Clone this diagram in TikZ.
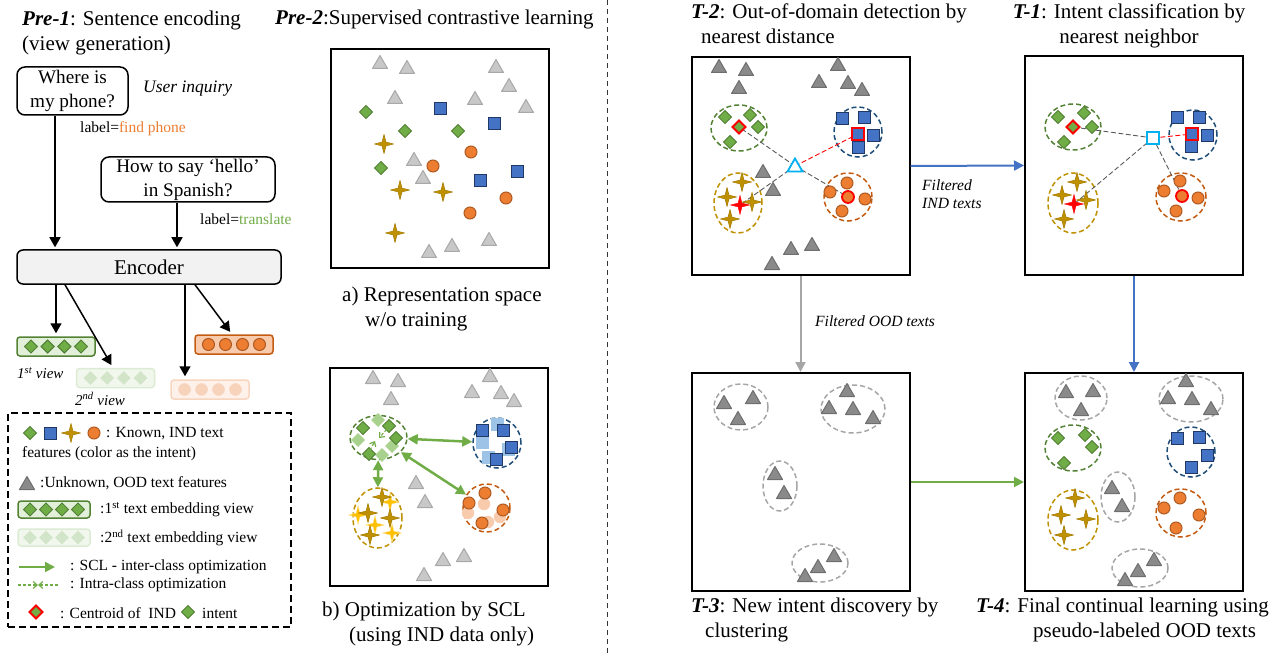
\documentclass[tikz,border=0pt]{standalone}
\usepackage{fontspec}
\setmainfont{Liberation Serif}
\usepackage{tikz}
\usetikzlibrary{
	arrows.meta,
	calc,
	positioning,
	shapes.geometric,
}

\definecolor{cgreen}{HTML}{70AD47}
\definecolor{cgreenD}{HTML}{507E32}
\definecolor{cblue}{HTML}{4472C4}
\definecolor{cblueD}{HTML}{203864}
\definecolor{corange}{HTML}{ED7D31}
\definecolor{corangeD}{HTML}{AE5A21}
\definecolor{cgold}{HTML}{BF9000}
\definecolor{cgoldD}{HTML}{A67C00}
\definecolor{triL}{HTML}{C8C8C8}
\definecolor{triLD}{HTML}{A8A8A8}
\definecolor{triD}{HTML}{8A8A8A}
\definecolor{triDD}{HTML}{6E6E6E}
\definecolor{lgreen}{HTML}{A9D18E}
\definecolor{lblue}{HTML}{9DC3E6}
\definecolor{lgold}{HTML}{FFC000}
\definecolor{lgoldD}{HTML}{FFE699}
\definecolor{lorange}{HTML}{F8CBAD}
\definecolor{kgreen}{HTML}{548235}
\definecolor{kblue}{HTML}{1F4E79}
\definecolor{kgold}{HTML}{BF9000}
\definecolor{korange}{HTML}{C55A11}
\definecolor{kgray}{HTML}{A6A6A6}
\definecolor{ccyan}{HTML}{00B0F0}
\definecolor{vfill}{HTML}{E2F0D9}
\definecolor{vfaint}{HTML}{F1F7ED}
\definecolor{vfaintD}{HTML}{DCEBD3}
\definecolor{dfaint}{HTML}{D3E5C8}
\definecolor{ofill}{HTML}{F8CBAD}
\definecolor{ofaint}{HTML}{FDF1EA}
\definecolor{ofaintD}{HTML}{F8D5BF}
\definecolor{cfaint}{HTML}{F8D3BC}

\tikzset{heading/.style={
	inner sep=0mm,
	anchor=north west,
	align=left,
	font=\fontsize{21}{25}\selectfont,
}}
\tikzset{note/.style={
	inner sep=0mm,
	anchor=west,
	font=\fontsize{15.5}{18}\selectfont,
}}
\tikzset{textbox/.style={
	draw,
	rounded corners=8pt,
	line width=1.5pt,
	align=center,
	inner sep=0mm,
	font=\fontsize{19.2}{24}\selectfont,
}}
\tikzset{encoder/.style={
	draw,
	fill=black!5,
	rounded corners=6pt,
	line width=1.5pt,
	inner sep=0mm,
	minimum width=264pt,
	minimum height=34pt,
	font=\fontsize{21}{25}\selectfont,
}}
\tikzset{view bar/.style={
	draw=#1,
	rounded corners=3pt,
	line width=1.5pt,
	inner sep=0mm,
	minimum width=78pt,
	minimum height=19pt,
}}
\tikzset{panel/.style={
	draw,
	line width=2pt,
	inner sep=0mm,
	minimum size=218pt,
}}
\tikzset{cluster/.style={
	ellipse,
	draw=#1,
	line width=1.5pt,
	dash pattern=on 5pt off 3pt,
	inner sep=0mm,
}}
\tikzset{arr/.style={
	line width=1.5pt,
	shorten >=3pt,
	-{Triangle[length=10pt,width=11pt]},
}}
\tikzset{flow/.style={
	draw=#1,
	line width=2pt,
	-{Triangle[length=10pt,width=10pt]},
}}
\tikzset{scl/.style={
	draw=cgreen,
	line width=2.5pt,
	{Triangle[length=10pt,width=10pt]}-{Triangle[length=10pt,width=10pt]},
}}
\tikzset{intra/.style={
	draw=cgreen,
	line width=1.2pt,
	dash pattern=on 3pt off 2pt,
	-{Straight Barb[length=4pt,width=7pt]},
}}
\tikzset{probe/.style={
	draw=black!65,
	line width=0.9pt,
	dash pattern=on 5pt off 2.5pt,
}}
\tikzset{m tri light/.style={fill=triL, draw=triLD, line width=1pt, line join=round}}
\tikzset{m tri dark/.style={fill=triD, draw=triDD, line width=1pt, line join=round}}
\tikzset{m dia/.style={fill=cgreen, draw=cgreenD, line width=1pt}}
\tikzset{m sq/.style={fill=cblue, draw=cblueD, line width=1pt}}
\tikzset{m circ/.style={fill=corange, draw=corangeD, line width=1pt}}
\tikzset{m star/.style={fill=cgold, draw=cgoldD, line width=0.6pt, line join=round}}
\tikzset{centroid/.style={draw=red, line width=1.8pt}}
\tikzset{query/.style={fill=white, draw=ccyan, line width=1.8pt}}

\newcommand{\mtri}[2][m tri light]{\draw[#1] (#2) ++(-7.5,5.5) -- ++(15,0) -- ++(-7.5,-13) -- cycle;}
\newcommand{\mdia}[2][m dia]{\draw[#1] (#2) ++(-6.5,0) -- ++(6.5,-6.5) -- ++(6.5,6.5) -- ++(-6.5,6.5) -- cycle;}
\newcommand{\msq}[2][m sq]{\draw[#1] (#2) ++(-6,-6) rectangle ++(12,12);}
\newcommand{\mcirc}[2][m circ]{\draw[#1] (#2) circle[radius=6];}
\newcommand{\mstar}[2][m star]{\draw[#1] (#2) ++(0,-9.5) -- ++(1.9,7.6) -- ++(7.6,1.9) -- ++(-7.6,1.9) -- ++(-1.9,7.6) -- ++(-1.9,-7.6) -- ++(-7.6,-1.9) -- ++(7.6,-1.9) -- cycle;}

\begin{document}
\begin{tikzpicture}[x=1pt, y=-1pt]
\useasboundingbox (0,0) rectangle (1288,655);

% divider
\draw[black!80, line width=1pt, dash pattern=on 5pt off 4pt] (607,0) -- (607,655);

% Pre-1: sentence encoding
\node[heading] (t-pre1) at (22,10.5) {\textbf{\textit{Pre-1}}: Sentence encoding\\(view generation)};
\node[textbox, minimum width=111pt, minimum height=48pt] (q1) at (72.5,91) {Where is\\my phone?};
\node[note, font=\fontsize{17.5}{20}\selectfont\itshape] (user) at (143,89) {User inquiry};
\node[note] (lab1) at (80,129) {label=\textcolor{corange}{find phone}};
\node[textbox, minimum width=174pt, minimum height=45pt] (q2) at (188,179.5) {How to say ‘hello’\\in Spanish?};
\node[note] (lab2) at (200,219) {label=\textcolor{cgreen}{translate}};
\node[encoder] (enc) at (149,267) {Encoder};

\node[view bar=kgreen, fill=vfill] (v1) at (56,346.5) {};
\foreach \dx in {-25,-8.3,8.3,25} {\mdia{$(v1)+(\dx,0)$}}
\node[view bar=vfaintD, fill=vfaint] (v2) at (115.5,378) {};
\foreach \dx in {-25,-8.3,8.3,25} {\mdia[fill=dfaint, draw=dfaint]{$(v2)+(\dx,0)$}}
\node[view bar=korange, fill=ofill] (o1) at (234,344.5) {};
\foreach \dx in {-25.5,-8.5,8.5,25.5} {\mcirc{$(o1)+(\dx,0)$}}
\node[view bar=ofaintD, fill=ofaint] (o2) at (210,389.5) {};
\foreach \dx in {-25.5,-8.5,8.5,25.5} {\mcirc[fill=cfaint, draw=cfaint]{$(o2)+(\dx,0)$}}

\node[note, font=\fontsize{15}{18}\selectfont\itshape] (n1) at (17,373) {1\textsuperscript{st} view};
\node[note, font=\fontsize{15}{18}\selectfont\itshape] (n2) at (75,399) {2\textsuperscript{nd} view};

\draw[arr, shorten >=2pt] ([xshift=-17.5pt]q1.south) -- ([xshift=-94pt]enc.north);
\draw[arr, shorten >=2pt] ([xshift=-11pt]q2.south) -- ([xshift=28pt]enc.north);
\draw[arr] ([xshift=-93pt]enc.south) -- (v1.north);
\draw[arr] ([xshift=-84pt]enc.south) -- ([xshift=-2.5pt]v2.north);
\draw[arr] ([xshift=36pt]enc.south) -- ([xshift=-25pt]o2.north);
\draw[arr] ([xshift=46pt]enc.south) -- ([xshift=-2pt]o1.north);

% legend
\node[draw, line width=1.5pt, dash pattern=on 7pt off 4pt, minimum width=283pt, minimum height=214pt] (lg) at (149.5,520) {};
\mdia{30,433}
\msq{50,433}
\mstar{71,433}
\mcirc[m circ, radius=6.5]{94,433}
\node[note] (lg1) at (106,434) {: Known, IND text};
\node[note] (lg2) at (22,454) {features (color as the intent)};
\mtri[m tri dark]{27,484}
\node[note] (lg3) at (40,483) {:Unknown, OOD text features};
\node[view bar=kgreen, fill=vfill, minimum width=72pt, minimum height=17pt] (lgv1) at (54,509.5) {};
\foreach \dx in {-24,-8,8,24} {\mdia{$(lgv1)+(\dx,0)$}}
\node[note] (lg4) at (100,510) {:1\textsuperscript{st} text embedding view};
\node[view bar=vfaintD, fill=vfaint, minimum width=72pt, minimum height=17pt] (lgv2) at (54,537.5) {};
\foreach \dx in {-24,-8,8,24} {\mdia[fill=dfaint, draw=dfaint]{$(lgv2)+(\dx,0)$}}
\node[note] (lg5) at (100,538) {:2\textsuperscript{nd} text embedding view};
\draw[draw=cgreen, line width=2pt, -{Triangle[length=10pt,width=10pt]}] (19,567) -- (55,567);
\node[note] (lg6) at (70,567) {: SCL - inter-class optimization};
\draw[intra] (18,585) -- (38,585);
\draw[intra] (58,585) -- (38,585);
\node[note] (lg7) at (70,585) {: Intra-class optimization};
\mdia[m dia, centroid]{36,612}
\node[note] (lg8) at (60,613) {: Centroid of\ \ IND};
\mdia{188,612}
\node[note] (lg9) at (202,613) {intent};

% Pre-2: supervised contrastive learning
\node[heading, anchor=base west] (t-pre2) at (275,25) {\textbf{\textit{Pre-2}}:Supervised contrastive learning};

% a) before training
\node[panel] (spa) at (439.5,158.5) {};
\foreach \x/\y in {380/63,407/68,496/67,509/86,395/98,475/99,526/107,414/160,423/178,429/252,452/246,489/240} {\mtri{\x,\y}}
\foreach \x/\y in {366/112,405/131,458/131,381/168} {\mdia{\x,\y}}
\foreach \x/\y in {440/109,494/124,480/181,517/172} {\msq{\x,\y}}
\foreach \x/\y in {471/152,433/166,506/198,470/213} {\mcirc{\x,\y}}
\foreach \x/\y in {384/144,400/190,443/192,395/233} {\mstar{\x,\y}}
\node[heading] (cap-a) at (342,287) {a) Representation space\\\hspace*{23pt}w/o training};

% b) after SCL
\node[panel] (spb) at (439,477) {};
\foreach \x/\y in {373/378,398/381,391/399,490/376,472/392,501/393,514/401,416/483,425/502,443/560,464/556,424/575} {\mtri{\x,\y}}
\node[cluster=kgreen, minimum width=57pt, minimum height=44pt] (bg) at (378.5,437.5) {};
\node[cluster=kblue, minimum width=48pt, minimum height=50pt] (bb) at (497,443) {};
\node[cluster=kgold, minimum width=49pt, minimum height=60pt] (by) at (377.5,518) {};
\node[cluster=korange, minimum width=47pt, minimum height=48pt] (bo) at (486.5,508) {};
\foreach \x/\y in {378/420,358/440,392/446,382/455} {\mdia[fill=lgreen, draw=lgreen]{\x,\y}}
\foreach \x/\y in {363/428,389/426,396/438,369/454} {\mdia{\x,\y}}
\foreach \x/\y in {497/424,482/442,488/457,508/449} {\msq[fill=lblue, draw=lblue]{\x,\y}}
\foreach \x/\y in {482/430,503/430,511/447,496/459} {\msq{\x,\y}}
\foreach \x/\y in {390/502,358/515,375/525,392/533} {\mstar[fill=lgold, draw=lgoldD]{\x,\y}}
\foreach \x/\y in {382/497,368/513,390/518,370/535} {\mstar{\x,\y}}
\foreach \x/\y in {484/504,468/513,500/517,488/522} {\mcirc[fill=lorange, draw=lorange]{\x,\y}}
\foreach \x/\y in {485/493,469/503,503/510,482/523} {\mcirc{\x,\y}}
\draw[intra, shorten <=2pt] (388,428) -- (379,438);
\draw[intra, shorten <=2pt] (369,452) -- (375,441);
\draw[scl] (bg) -- (bb);
\draw[scl] (bg) -- (by);
\draw[scl] (bg) -- (bo);
\node[heading] (cap-b) at (322,602) {b) Optimization by SCL\\\hspace*{27pt}(using IND data only)};

% T-2: OOD detection
\node[heading] (t-ood) at (691,4) {\textbf{\textit{T-2}}: Out-of-domain detection by\\\hspace*{10pt}nearest distance};
\node[panel] (ood) at (800.5,166) {};
\foreach \x/\y in {719/67,746/70,739/88,838/65,819/82,848/83,862/90,763/172,773/190,791/249,812/245,772/264} {\mtri[m tri dark]{\x,\y}}
\node[cluster=kgreen, minimum width=56pt, minimum height=46pt] (ood-g) at (739,128) {};
\node[cluster=kblue, minimum width=48pt, minimum height=50pt] (ood-b) at (858,132) {};
\node[cluster=kgold, minimum width=48pt, minimum height=60pt] (ood-y) at (738,203) {};
\node[cluster=korange, minimum width=48pt, minimum height=48pt] (ood-o) at (848,197) {};
\coordinate (ood-q) at (795,166);
\coordinate (ood-cg) at (739,127);
\coordinate (ood-cb) at (858,134);
\coordinate (ood-cy) at (740,205);
\coordinate (ood-co) at (848,197);
\draw[probe] (ood-q) -- (ood-cg);
\draw[probe] (ood-q) -- (ood-cy);
\draw[probe] (ood-q) -- (ood-co);
\draw[probe, draw=red] (ood-q) -- (ood-cb);
\foreach \x/\y in {725/117,750/115,758/127,730/142} {\mdia{\x,\y}}
\foreach \x/\y in {842/119,864/118,873/136,858/148} {\msq{\x,\y}}
\foreach \x/\y in {742/182,727/197,752/202,730/219} {\mstar{\x,\y}}
\foreach \x/\y in {847/183,830/192,865/199,842/211} {\mcirc{\x,\y}}
\mdia[m dia, centroid]{ood-cg}
\msq[m sq, centroid]{ood-cb}
\mstar[fill=red, draw=red]{ood-cy}
\mcirc[m circ, centroid]{ood-co}
\mtri[query]{ood-q}

% T-1: intent classification
\node[heading, anchor=north, align=center] (t-cls) at (1129,4) {\textbf{\textit{T-1}}: Intent classification by\\nearest neighbor};
\node[panel] (cls) at (1134,165.5) {};
\node[cluster=kgreen, minimum width=56pt, minimum height=46pt] (cls-g) at (1073,127) {};
\node[cluster=kblue, minimum width=48pt, minimum height=50pt] (cls-b) at (1193,135) {};
\node[cluster=kgold, minimum width=50pt, minimum height=60pt] (cls-y) at (1073,203) {};
\node[cluster=korange, minimum width=50pt, minimum height=48pt] (cls-o) at (1181,197) {};
\coordinate (cls-q) at (1153,138);
\coordinate (cls-cg) at (1073,127);
\coordinate (cls-cb) at (1192,134);
\coordinate (cls-cy) at (1074,204);
\coordinate (cls-co) at (1182,196);
\draw[probe] (cls-q) -- (cls-cg);
\draw[probe] (cls-q) -- (cls-cy);
\draw[probe] (cls-q) -- (cls-co);
\draw[probe, draw=red] (cls-q) -- (cls-cb);
\foreach \x/\y in {1058/117,1084/113,1092/127,1064/142} {\mdia{\x,\y}}
\foreach \x/\y in {1177/118,1199/118,1207/136,1191/147} {\msq{\x,\y}}
\foreach \x/\y in {1077/182,1062/195,1086/200,1064/219} {\mstar{\x,\y}}
\foreach \x/\y in {1180/181,1164/191,1198/198,1176/211} {\mcirc{\x,\y}}
\mdia[m dia, centroid]{cls-cg}
\msq[m sq, centroid]{cls-cb}
\mstar[fill=red, draw=red]{cls-cy}
\mcirc[m circ, centroid]{cls-co}
\msq[query]{cls-q}

% T-3: new intent discovery
\node[panel] (clu) at (800.5,482) {};
\node[cluster=kgray, minimum width=54pt, minimum height=46pt] (clu-1) at (741,407) {};
\node[cluster=kgray, minimum width=64pt, minimum height=48pt] (clu-2) at (853,409) {};
\node[cluster=kgray, minimum width=34pt, minimum height=50pt] (clu-3) at (780,486) {};
\node[cluster=kgray, minimum width=56pt, minimum height=38pt] (clu-4) at (820,563) {};
\foreach \x/\y in {724/403,753/398,738/419,847/391,829/408,853/409,873/418,775/474,784/493,834/556,818/567,805/576} {\mtri[m tri dark]{\x,\y}}
\node[heading] (t-clu) at (691,598) {\textbf{\textit{T-3}}: New intent discovery by\\\hspace*{14pt}clustering};

% T-4: final continual learning
\node[panel] (fin) at (1134,482) {};
\node[cluster=kgray, minimum width=52pt, minimum height=44pt] (fin-1) at (1081,398) {};
\node[cluster=kgray, minimum width=64pt, minimum height=46pt] (fin-2) at (1191,399) {};
\node[cluster=kgray, minimum width=34pt, minimum height=50pt] (fin-3) at (1118,497) {};
\node[cluster=kgray, minimum width=56pt, minimum height=38pt] (fin-4) at (1140,568) {};
\node[cluster=kgreen, minimum width=56pt, minimum height=46pt] (fin-g) at (1073,448) {};
\node[cluster=kblue, minimum width=48pt, minimum height=50pt] (fin-b) at (1191,452) {};
\node[cluster=kgold, minimum width=50pt, minimum height=60pt] (fin-y) at (1073,520) {};
\node[cluster=korange, minimum width=50pt, minimum height=48pt] (fin-o) at (1181,513) {};
\foreach \x/\y in {1066/392,1093/391,1081/410,1186/381,1168/398,1192/399,1211/409,1112/488,1122/506,1154/560,1138/571,1125/580} {\mtri[m tri dark]{\x,\y}}
\foreach \x/\y in {1058/438,1085/435,1092/447,1064/463} {\mdia{\x,\y}}
\foreach \x/\y in {1177/438,1199/437,1207/455,1191/467} {\msq{\x,\y}}
\foreach \x/\y in {1075/498,1061/515,1086/519,1064/535} {\mstar{\x,\y}}
\foreach \x/\y in {1180/498,1164/508,1199/515,1176/528} {\mcirc{\x,\y}}
\node[heading] (t-fin) at (976,598) {\textbf{\textit{T-4}}: Final continual learning using\\\hspace*{57pt}pseudo-labeled OOD texts};

% flows between stages
\draw[flow=cblue] (ood.east) -- (cls.west);
\draw[flow=kgray] (ood.south) -- (clu.north);
\draw[flow=cblue] (cls.south) -- (fin.north);
\draw[flow=cgreen] (clu.east) -- (fin.west);
\node[note, anchor=north west, align=left, font=\fontsize{15.6}{18}\selectfont\itshape] (f-ind) at (922,179) {Filtered\\IND texts};
\node[note, font=\fontsize{15.6}{18}\selectfont\itshape] (f-ood) at (815,321) {Filtered OOD texts};

\end{tikzpicture}
\end{document}
